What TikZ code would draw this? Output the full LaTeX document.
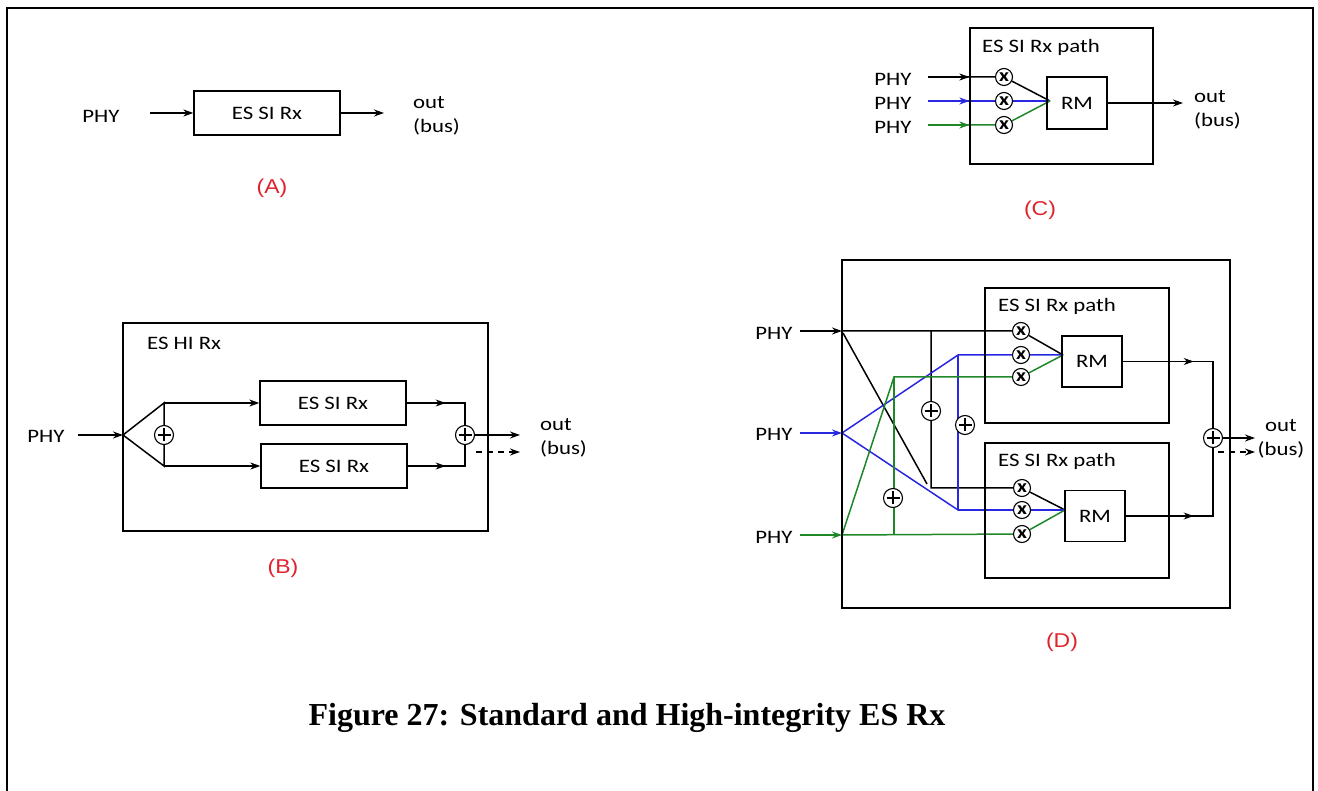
\documentclass[tikz,border=0pt]{standalone}
\usepackage{fontspec}
\usepackage{tikz}
\usetikzlibrary{arrows.meta,positioning,calc,backgrounds}
\usepackage{xcolor}

\newfontfamily\diagfont[FakeStretch=1.2]{Carlito}
\newfontfamily\tagfont[FakeStretch=1.15]{Liberation Sans}
\newfontfamily\capfont{Liberation Serif}

\definecolor{wireblue}{RGB}{40,40,225}
\definecolor{wiregreen}{RGB}{30,135,40}
\definecolor{tagred}{RGB}{225,35,45}

\begin{document}
\begin{tikzpicture}[
  x=1pt, y=-1pt,
  >={Stealth[length=10pt,width=7pt]},
  block/.style={draw, line width=1.3pt, minimum width=146pt, minimum height=44pt,
                font=\diagfont\fontsize{19}{24}\selectfont},
  frame/.style={draw, line width=1.3pt},
  txt/.style={inner sep=0pt, font=\diagfont\fontsize{19}{24}\selectfont},
  tag/.style={text=tagred, font=\tagfont\fontsize{20}{24}\selectfont},
  mul/.style={draw, circle, fill=white, line width=1.1pt, minimum size=17pt,
              inner sep=0pt, font=\diagfont\bfseries\fontsize{18}{18}\selectfont},
  add/.style={draw, circle, fill=white, line width=1.1pt, minimum size=19pt,
              inner sep=0pt,
              path picture={\draw[line width=1.1pt]
                ([xshift=-6.5pt]path picture bounding box.center) --
                ([xshift=6.5pt]path picture bounding box.center)
                ([yshift=-6.5pt]path picture bounding box.center) --
                ([yshift=6.5pt]path picture bounding box.center);}},
  wire/.style={line width=1.5pt},
  spare/.style={dash pattern=on 6pt off 5pt}
]
  \useasboundingbox (0,0) rectangle (1318,791);
  %% page frame
  \draw[line width=2.2pt] (7,800) -- (7,8) -- (1313,8) -- (1313,800);

  %% (A) standard receiver
  \node[txt] (phyA) at (101,116) {PHY};
  \node[block] (rxA) at (267,113) {ES SI Rx};
  \coordinate (inA) at (150,113);
  \coordinate (outA) at (384,113);
  \node[txt, align=left, anchor=west] (busA) at (413,116) {out\\(bus)};
  \node[tag] (tagA) at (272,188) {(A)};
  \draw[wire,->] (inA) -- (rxA);
  \draw[wire,->] (rxA) -- (outA);

  %% (B) high-integrity receiver
  \node[frame, minimum width=365pt, minimum height=208pt] (hiB) at (305.5,427) {};
  \node[txt, anchor=west] (hiLbl) at (147,343) {ES HI Rx};
  \node[block] (rxB1) at (333,403) {ES SI Rx};
  \node[block] (rxB2) at (334,466) {ES SI Rx};
  \node[txt] (phyB) at (46,436) {PHY};
  \coordinate (inB) at (78,435);
  \coordinate (splitB) at (123,435);
  \coordinate (upB) at (164,403);
  \coordinate (dnB) at (164,466);
  \node[add] (addB1) at (164,435) {};
  \node[add] (addB2) at (465,435) {};
  \coordinate (outB) at (520,435);
  \coordinate (dashB1) at (476,452);
  \coordinate (dashB2) at (520,452);
  \node[txt, align=left, anchor=west] (busB) at (540,438) {out\\(bus)};
  \node[tag] (tagB) at (283,568) {(B)};
  \begin{scope}[on background layer]
    \draw[wire,->] (inB) -- (splitB);
    \draw[wire] (upB) -- (splitB) -- (dnB) -- cycle;
    \draw[wire,->] (upB) -- (rxB1);
    \draw[wire,->] (dnB) -- (rxB2);
    \draw[wire] (rxB1) -| (addB2);
    \draw[wire] (rxB2) -| (addB2);
    \draw[wire,->] (rxB1.east) -- ++(39,0);
    \draw[wire,->] (rxB2.east) -- ++(38,0);
    \draw[wire,->] (addB2) -- (outB);
    \draw[wire,spare,->] (dashB1) -- (dashB2);
  \end{scope}

  %% (C) one receive path with redundancy management
  \node[frame, minimum width=183pt, minimum height=136pt] (pathC) at (1061.5,96) {};
  \node[txt, anchor=west] (pathCLbl) at (982,47) {ES SI Rx path};
  \node[block, minimum width=60pt, minimum height=52pt] (rmC) at (1077,103) {RM};
  \node[mul] (mC1) at (1004,77) {x};
  \node[mul] (mC2) at (1004,101) {x};
  \node[mul] (mC3) at (1004,125) {x};
  \node[txt] (phyC1) at (893,79) {PHY};
  \node[txt] (phyC2) at (893,103) {PHY};
  \node[txt] (phyC3) at (893,127) {PHY};
  \coordinate (inC1) at (928,77);
  \coordinate (inC2) at (928,101);
  \coordinate (inC3) at (928,125);
  \coordinate (jC) at (1050,101);
  \coordinate (outC) at (1183,103);
  \node[txt, align=left, anchor=west] (busC) at (1194,110) {out\\(bus)};
  \node[tag] (tagC) at (1040,210) {(C)};
  \begin{scope}[on background layer]
    \draw[wire] (inC1) -- (mC1) -- (jC);
    \draw[wire,->] (inC1) -- (inC1 -| pathC.west);
    \draw[wire,wireblue] (inC2) -- (mC2) -- (jC);
    \draw[wire,wireblue,->] (inC2) -- (inC2 -| pathC.west);
    \draw[wire,wiregreen] (inC3) -- (mC3) -- (jC);
    \draw[wire,wiregreen,->] (inC3) -- (inC3 -| pathC.west);
    \draw[wire,->] (rmC) -- (outC);
  \end{scope}

  %% (D) two receive paths, cross-strapped
  \node[frame, minimum width=388pt, minimum height=348pt] (hiD) at (1036,434) {};
  \node[frame, minimum width=184pt, minimum height=135pt] (pathT) at (1077,355.5) {};
  \node[frame, minimum width=184pt, minimum height=135pt] (pathB) at (1077,510.5) {};
  \node[txt, anchor=west] (pathTLbl) at (998,306) {ES SI Rx path};
  \node[txt, anchor=west] (pathBLbl) at (998,461) {ES SI Rx path};
  \node[block, minimum width=60pt, minimum height=51pt] (rmT) at (1092,361.5) {RM};
  \node[block, minimum width=60pt, minimum height=51pt] (rmB) at (1095,516) {RM};
  \node[mul] (mT1) at (1021,331) {x};
  \node[mul] (mT2) at (1021,355) {x};
  \node[mul] (mT3) at (1021,377) {x};
  \node[mul] (mB1) at (1022,488) {x};
  \node[mul] (mB2) at (1022,510) {x};
  \node[mul] (mB3) at (1022,534) {x};
  \node[txt] (phyD1) at (774,333) {PHY};
  \node[txt] (phyD2) at (774,434) {PHY};
  \node[txt] (phyD3) at (774,537) {PHY};
  \coordinate (pD1) at (800,331);
  \coordinate (pD2) at (800,433);
  \coordinate (pD3) at (800,535);
  \coordinate (inD1) at (842,331);
  \coordinate (inD2) at (842,433);
  \coordinate (inD3) at (842,535);
  \coordinate (kT) at (931,331);
  \coordinate (kB) at (931,488);
  \coordinate (diagEnd) at (927,484);
  \coordinate (bT) at (958,355);
  \coordinate (bB) at (958,510);
  \coordinate (gT) at (894,377);
  \coordinate (gB) at (894,535);
  \node[add] (addK) at (931,411) {};
  \node[add] (addBl) at (965,425) {};
  \node[add] (addG) at (893,498) {};
  \coordinate (jT) at (1063,355);
  \coordinate (jB) at (1065,510);
  \node[add] (addD) at (1213,438) {};
  \coordinate (outD) at (1255,438);
  \coordinate (dashD1) at (1218,452);
  \coordinate (dashD2) at (1255,452);
  \node[txt, align=center] (busD) at (1281,439) {out\\(bus)};
  \node[tag] (tagD) at (1062,642) {(D)};
  \begin{scope}[on background layer]
    %% inputs
    \draw[wire,->] (pD1) -- (inD1);
    \draw[wire,wireblue,->] (pD2) -- (inD2);
    \draw[wire,wiregreen,->] (pD3) -- (inD3);
    %% black
    \draw[wire] (inD1) -- (mT1) -- (jT);
    \draw[wire] (kT) -- (kB) -- (mB1) -- (jB);
    \draw[wire] ([shift={(1,2)}]inD1) -- (diagEnd);
    %% blue
    \draw[wire,wireblue] (jT) -- (mT2) -- (bT) -- (inD2) -- (bB) -- (mB2) -- (jB);
    \draw[wire,wireblue] (bT) -- (bB);
    %% green
    \draw[wire,wiregreen] (jT) -- (mT3) -- (gT) -- (inD3) -- (mB3) -- (jB);
    \draw[wire,wiregreen] (gT) -- (gB);
    %% outputs
    \draw[wire] (rmT) -| (addD);
    \draw[wire] (rmB) -| (addD);
    \draw[wire,->] (rmT.east) -- ++(71,0);
    \draw[wire,->] (rmB.east) -- ++(68,0);
    \draw[wire,->] (addD) -- (outD);
    \draw[wire,spare,->] (dashD1) -- (dashD2);
  \end{scope}

  %% caption
  \node[font=\capfont\bfseries\fontsize{32}{36}\selectfont] (caption) at (627,718)
    {Figure 27: Standard and High-integrity ES Rx};
\end{tikzpicture}
\end{document}
